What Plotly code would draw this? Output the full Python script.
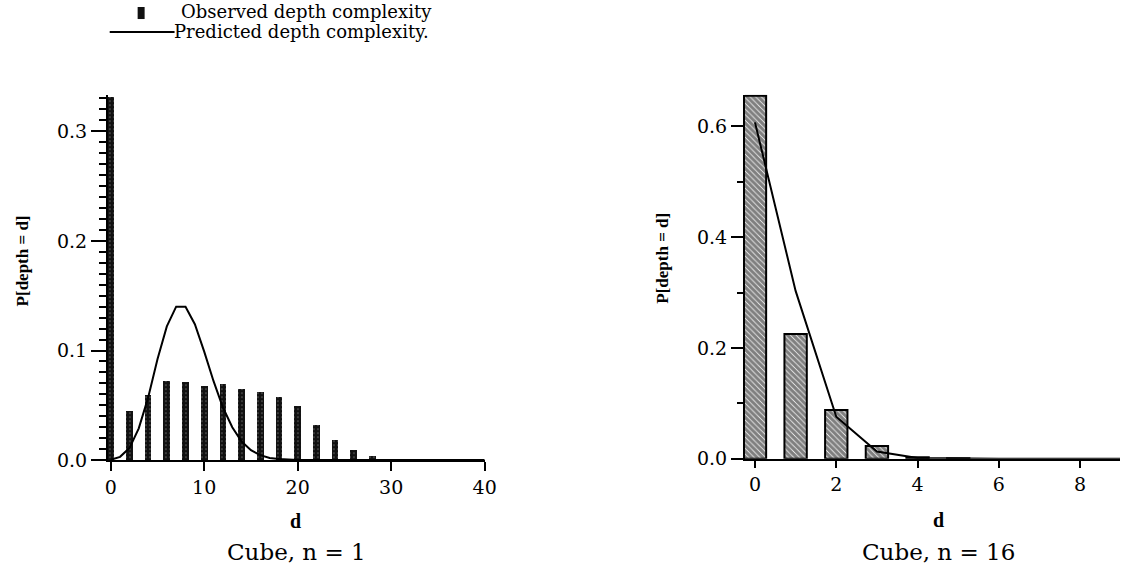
import plotly.graph_objects as go

# ---------------- data ----------------
# Left panel: Cube, n = 1
obs1_d = [0, 2, 4, 6, 8, 10, 12, 14, 16, 18, 20, 22, 24, 26, 28, 30]
obs1_p = [0.331, 0.045, 0.059, 0.072, 0.071, 0.068, 0.069, 0.065, 0.062, 0.058,
          0.049, 0.032, 0.018, 0.009, 0.004, 0.001]
pred1_d = [0, 1, 2, 3, 4, 5, 6, 7, 8, 9, 10, 11, 12, 13, 14, 15, 16, 17, 18, 19, 20, 25, 30, 40]
pred1_p = [0.0003, 0.003, 0.011, 0.029, 0.057, 0.092, 0.122, 0.140, 0.140, 0.124,
           0.099, 0.072, 0.048, 0.030, 0.017, 0.009, 0.0045, 0.002, 0.001, 0.0004,
           0.0002, 0.0, 0.0, 0.0]

# Right panel: Cube, n = 16
obs16_d = [0, 1, 2, 3, 4, 5]
obs16_p = [0.655, 0.225, 0.088, 0.023, 0.003, 0.001]
pred16_d = [0, 1, 2, 3, 4, 5, 6, 7, 8, 9]
pred16_p = [0.607, 0.303, 0.076, 0.013, 0.0016, 0.0002, 0.0, 0.0, 0.0, 0.0]

x1_ticks = [0, 10, 20, 30, 40]
y1_ticks = [0.0, 0.1, 0.2, 0.3]
x2_ticks = [0, 2, 4, 6, 8]
y2_ticks = [0.0, 0.2, 0.4, 0.6]

titles = ["Cube, n = 1", "Cube, n = 16"]
legend_labels = ["Observed depth complexity", "Predicted depth complexity."]
x_title = "d"
y_title = "P[depth = d]"

# ---------------- layout helpers ----------------
W, H = 1132, 574
# the photographed page maps the figure onto about 1120 x 562 pixels
VW, VH = 1120.0, 562.0
FONT = "DejaVu Serif, serif"
BFONT = "Liberation Serif, Times New Roman, serif"


def px(x):
    return x / VW


def py(y):
    return 1.0 - y / VH


fig = go.Figure()

fig.add_trace(go.Bar(
    x=obs1_d, y=obs1_p, width=0.71, xaxis="x", yaxis="y",
    marker=dict(color="#111111", line=dict(width=0),
                pattern=dict(shape=".", fgcolor="#dddddd", bgcolor="#111111",
                             size=4, solidity=0.12, fillmode="overlay")),
    showlegend=False))
fig.add_trace(go.Scatter(
    x=pred1_d, y=pred1_p, mode="lines", xaxis="x", yaxis="y",
    line=dict(color="black", width=2), showlegend=False))

fig.add_trace(go.Bar(
    x=obs16_d, y=obs16_p, width=0.55, xaxis="x2", yaxis="y2",
    marker=dict(color="white", line=dict(color="black", width=2),
                pattern=dict(shape="\\", fgcolor="black", bgcolor="white",
                             size=4, solidity=0.8, fillmode="overlay")),
    showlegend=False))
fig.add_trace(go.Scatter(
    x=pred16_d, y=pred16_p, mode="lines", xaxis="x2", yaxis="y2",
    line=dict(color="black", width=2), showlegend=False))

tickfont = dict(family=FONT, size=19, color="black")
axis_common = dict(showgrid=False, zeroline=False, showline=True, linecolor="black",
                   linewidth=2, ticks="outside", tickcolor="black", tickwidth=2,
                   tickfont=tickfont, fixedrange=True)

fig.update_layout(
    width=W, height=H,
    margin=dict(l=0, r=0, t=0, b=0),
    paper_bgcolor="white", plot_bgcolor="white",
    bargap=0,
    showlegend=False,
    xaxis=dict(domain=[px(105.2), px(483)], range=[-0.3, 40], anchor="y",
               tickvals=x1_ticks, ticklen=9, **axis_common),
    yaxis=dict(domain=[py(459.3), py(95.0)], range=[0, 0.333], anchor="x",
               tickvals=y1_ticks, tickformat=".1f", ticklen=15,
               minor=dict(dtick=0.01, ticklen=7, tickwidth=2, tickcolor="black",
                          ticks="outside"),
               **axis_common),
    xaxis2=dict(domain=[px(744), 1.0], range=[-0.245, 8.98], anchor="y2",
                tickvals=x2_ticks, ticklen=7, **axis_common),
    yaxis2=dict(domain=[py(458), py(94.5)], range=[0, 0.657], anchor="x2",
                tickvals=y2_ticks, tickformat=".1f", ticklen=12,
                minor=dict(dtick=0.1, ticklen=6, tickwidth=2, tickcolor="black",
                           ticks="outside"),
                **axis_common),
)

ann = []
# y-axis titles
for xc, yc in [(20, 260), (661, 258)]:
    ann.append(dict(text="<b>" + y_title + "</b>", x=px(xc), y=py(yc), xref="paper", yref="paper",
                    textangle=-90, showarrow=False, xanchor="center", yanchor="middle",
                    font=dict(family=BFONT, size=17, color="black")))
# x-axis titles
for xc, yc in [(293, 520), (938, 519)]:
    ann.append(dict(text="<b>" + x_title + "</b>", x=px(xc), y=py(yc), xref="paper", yref="paper",
                    showarrow=False, xanchor="center", yanchor="middle",
                    font=dict(family=BFONT, size=20, color="black")))
# panel captions (kept inside the visible page)
for t, xc in zip(titles, [294, 937.7]):
    ann.append(dict(text=t, x=px(xc), y=py(566), xref="paper", yref="paper",
                    showarrow=False, xanchor="center", yanchor="bottom",
                    font=dict(family=FONT, size=23, color="black")))
# legend texts
ann.append(dict(text=legend_labels[0], x=px(176), y=py(11.5), xref="paper", yref="paper",
                showarrow=False, xanchor="left", yanchor="middle",
                font=dict(family=FONT, size=18, color="black")))
ann.append(dict(text=legend_labels[1], x=px(169), y=py(31.5), xref="paper", yref="paper",
                showarrow=False, xanchor="left", yanchor="middle",
                font=dict(family=FONT, size=18, color="black")))

shapes = [
    dict(type="rect", xref="paper", yref="paper", x0=px(135), x1=px(142), y0=py(19), y1=py(7),
         fillcolor="#111111", line=dict(width=0)),
    dict(type="line", xref="paper", yref="paper", x0=px(107), x1=px(172), y0=py(32), y1=py(32),
         line=dict(color="black", width=2)),
]

fig.update_layout(annotations=ann, shapes=shapes)

post = ("document.documentElement.style.margin='0';document.body.style.margin='0';"
        "document.documentElement.style.overflow='hidden';document.body.style.overflow='hidden';")
fig.write_html("out.html", config={"staticPlot": True, "displayModeBar": False}, post_script=post)
